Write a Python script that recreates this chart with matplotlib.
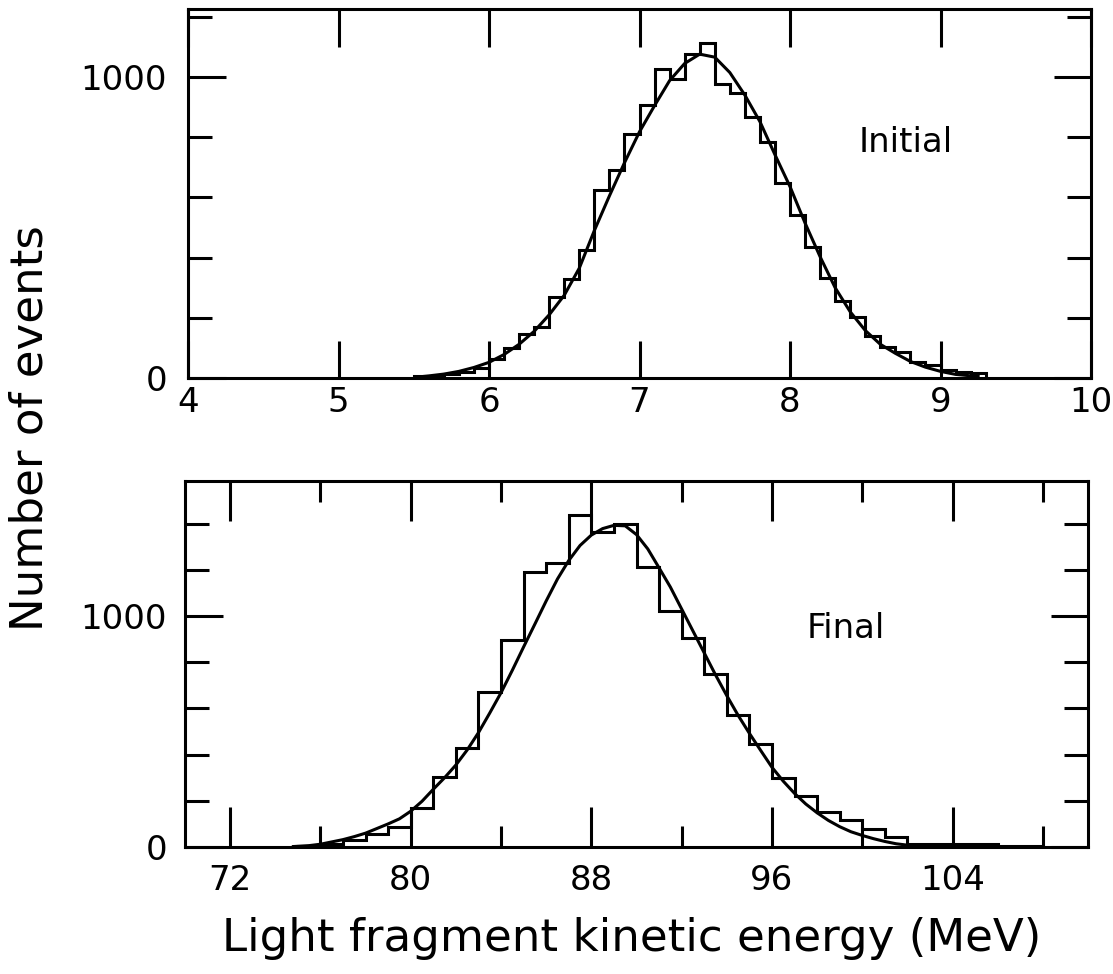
import numpy as np
import matplotlib
matplotlib.use("Agg")
import matplotlib.pyplot as plt
from matplotlib.ticker import FixedLocator

plt.rcParams['font.family'] = ['DejaVu Sans']

# ---------------- data ----------------
# Initial (top) histogram: 0.1 MeV bins (left edges 5.5 ... 9.2)
initial_edges = np.round(np.linspace(5.5, 9.3, 39), 2)
initial_counts = [5, 8, 12, 20, 32, 62, 100, 145, 168, 270,
                  328, 425, 625, 692, 812, 908, 1027, 992, 1075, 1114,
                  976, 948, 868, 785, 647, 543, 436, 331, 256, 204,
                  140, 102, 87, 54, 43, 28, 20, 18]
# Initial fitted curve
initial_fit_x = [5.54, 5.6, 5.7, 5.8, 5.9, 6.0, 6.1, 6.2, 6.3, 6.4,
                 6.5, 6.6, 6.7, 6.8, 6.9, 7.0, 7.1, 7.2, 7.3, 7.4,
                 7.5, 7.6, 7.7, 7.8, 7.9, 8.0, 8.1, 8.2, 8.3, 8.4,
                 8.5, 8.6, 8.7, 8.8, 8.9, 9.0, 9.1, 9.25]
initial_fit_y = [4, 7, 13, 22, 35, 52, 78, 112, 155, 210,
                 275, 365, 490, 605, 715, 818, 905, 988, 1045, 1076,
                 1066, 1015, 940, 852, 742, 636, 515, 403, 300, 220,
                 158, 112, 82, 55, 36, 22, 12, 5]

# Final (bottom) histogram: 1 MeV bins (left edges 75 ... 107)
final_edges = np.arange(75, 109)
final_counts = [6, 14, 30, 58, 85, 167, 302, 427, 670, 898,
                1190, 1228, 1437, 1365, 1400, 1210, 1020, 905, 750, 572,
                445, 300, 220, 150, 118, 80, 45, 15, 15, 15,
                15, 5, 4]
final_fit_x = [74.8, 75.5, 76.0, 76.5, 77.0, 77.5, 78.0, 78.5, 79.0, 79.5,
               80.0, 80.5, 81.0, 81.5, 82.0, 82.5, 83.0, 83.5, 84.0, 84.5,
               85.0, 85.5, 86.0, 86.5, 87.0, 87.5, 88.0, 88.5, 89.0, 89.5,
               90.0, 90.5, 91.0, 91.5, 92.0, 92.5, 93.0, 93.5, 94.0, 94.5,
               95.0, 95.5, 96.0, 96.5, 97.0, 97.5, 98.0, 98.5, 99.0, 99.5,
               100.0, 100.5, 101.0, 101.5, 102.0, 102.8]
final_fit_y = [2, 6, 12, 22, 32, 45, 60, 80, 100, 122,
               155, 198, 250, 300, 355, 420, 495, 580, 668, 765,
               866, 965, 1065, 1160, 1240, 1305, 1350, 1378, 1392, 1390,
               1352, 1290, 1208, 1125, 1030, 935, 840, 745, 655, 570,
               492, 418, 345, 285, 232, 186, 148, 115, 88, 66,
               50, 36, 24, 14, 8, 3]

top_xticks = [4, 5, 6, 7, 8, 9, 10]
top_xlabels = ['4', '5', '6', '7', '8', '9', '10']
bot_xticks = [72, 80, 88, 96, 104]
bot_xlabels = ['72', '80', '88', '96', '104']
bot_xminor = [76, 84, 92, 100, 108]
yticks_major = [0, 1000]
ylabels_major = ['0', '1000']
top_yminor = [200, 400, 600, 800, 1200]
bot_yminor = [200, 400, 600, 800, 1200, 1400]

# ---------------- figure ----------------
W, H = 1113, 974
fig = plt.figure(figsize=(W / 100, H / 100), dpi=100)

def px_axes(l, t, r, b):
    return fig.add_axes([l / W, 1 - b / H, (r - l) / W, (b - t) / H])

ax1 = px_axes(188, 9, 1091, 378)
ax2 = px_axes(185, 481, 1088, 847)

LW = 2.2
tick_fs = 24.5

for ax in (ax1, ax2):
    for s in ax.spines.values():
        s.set_linewidth(LW)

# top panel
ax1.stairs(initial_counts, initial_edges, baseline=0, color='black', lw=LW)
ax1.plot(initial_fit_x, initial_fit_y, color='black', lw=LW)
ax1.set_xlim(4, 10)
ax1.set_ylim(0, 1226)
ax1.set_xticks(top_xticks)
ax1.set_xticklabels(top_xlabels, fontsize=tick_fs)
ax1.set_yticks(yticks_major)
ax1.set_yticklabels(ylabels_major, fontsize=tick_fs)
ax1.yaxis.set_minor_locator(FixedLocator(top_yminor))
ax1.tick_params(axis='x', which='major', direction='in', length=27, width=LW,
                top=True, pad=6)
ax1.tick_params(axis='y', which='major', direction='in', length=27, width=LW,
                right=True, pad=15)
ax1.tick_params(axis='y', which='minor', direction='in', length=17, width=LW,
                right=True)
ax1.text(0.795, 0.637, 'Initial', transform=ax1.transAxes, fontsize=tick_fs,
         ha='center', va='center')

# bottom panel
ax2.stairs(final_counts, final_edges, baseline=0, color='black', lw=LW)
ax2.plot(final_fit_x, final_fit_y, color='black', lw=LW)
ax2.set_xlim(70, 110)
ax2.set_ylim(0, 1584)
ax2.set_xticks(bot_xticks)
ax2.set_xticklabels(bot_xlabels, fontsize=tick_fs)
ax2.xaxis.set_minor_locator(FixedLocator(bot_xminor))
ax2.set_yticks(yticks_major)
ax2.set_yticklabels(ylabels_major, fontsize=tick_fs)
ax2.yaxis.set_minor_locator(FixedLocator(bot_yminor))
ax2.tick_params(axis='x', which='major', direction='in', length=29, width=LW,
                top=True, pad=12)
ax2.tick_params(axis='x', which='minor', direction='in', length=15, width=LW,
                top=True)
ax2.tick_params(axis='y', which='major', direction='in', length=27, width=LW,
                right=True, pad=13)
ax2.tick_params(axis='y', which='minor', direction='in', length=17, width=LW,
                right=True)
ax2.text(0.732, 0.598, 'Final', transform=ax2.transAxes, fontsize=tick_fs,
         ha='center', va='center')

fig.text(30 / W, 1 - 428 / H, 'Number of events', rotation=90,
         fontsize=32.5, ha='center', va='center')
fig.text(632 / W, 1 - 938 / H, 'Light fragment kinetic energy (MeV)',
         fontsize=32.5, ha='center', va='center')

fig.savefig('out.png', dpi=100)
